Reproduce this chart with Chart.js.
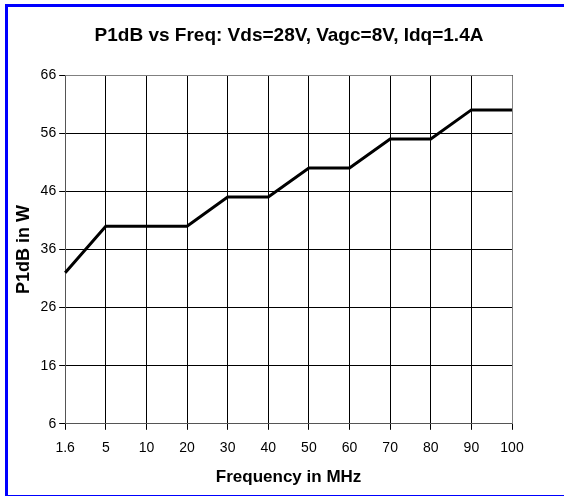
<!DOCTYPE html>
<html>
<head>
<meta charset="utf-8">
<script src="https://cdn.jsdelivr.net/npm/chart.js@4/dist/chart.umd.min.js"></script>
<style>
  html, body { margin: 0; padding: 0; background: #fff; overflow: hidden; width: 564px; height: 498px; }
  #frame {
    position: absolute; left: 5px; top: 4px; width: 556px; height: 488px;
    border-left: 3px solid #0000ff; border-top: 3px solid #0000ff; border-bottom: 1px solid #0000ff;
  }
  #wrap { position: absolute; left: 0; top: 0; width: 564px; height: 498px; }
</style>
</head>
<body>
<div id="frame"></div>
<div id="wrap"><canvas id="c" width="564" height="498"></canvas></div>
<script>
// ---- Data ----
const freqLabels = ['1.6', '5', '10', '20', '30', '40', '50', '60', '70', '80', '90', '100'];
const p1dbWatts = [32, 40, 40, 40, 45, 45, 50, 50, 55, 55, 60, 60];
const yMin = 6, yMax = 66, yStep = 10;
const chartTitle = 'P1dB vs Freq: Vds=28V, Vagc=8V, Idq=1.4A';

const font = 'Liberation Sans, Arial, sans-serif';

new Chart(document.getElementById('c'), {
  type: 'line',
  data: {
    labels: freqLabels,
    datasets: [{
      data: p1dbWatts,
      borderColor: '#000',
      borderWidth: 3,
      pointRadius: 0,
      tension: 0,
      fill: false
    }]
  },
  options: {
    responsive: false,
    animation: false,
    layout: { padding: { left: 13, right: 52, top: 75, bottom: 10 } },
    plugins: {
      legend: { display: false },
      tooltip: { enabled: false },
      title: { display: false }
    },
    scales: {
      x: {
        type: 'category',
        offset: false,
        grid: { color: '#000', lineWidth: 1, tickLength: 6, drawTicks: true },
        border: { color: '#555', width: 1 },
        ticks: { color: '#000', font: { family: font, size: 14 }, padding: 10, maxRotation: 0, autoSkip: false },
        title: {
          display: true, text: 'Frequency in MHz', color: '#000',
          font: { family: font, size: 17, weight: 'bold' }, padding: { top: 1, bottom: 0 }
        }
      },
      y: {
        min: yMin, max: yMax,
        grid: { color: '#000', lineWidth: 1, tickLength: 6 },
        border: { color: '#555', width: 1 },
        ticks: { stepSize: yStep, color: '#000', font: { family: font, size: 14 }, padding: 3 },
        title: {
          display: true, text: 'P1dB in W', color: '#000',
          font: { family: font, size: 18, weight: 'bold' }, padding: { top: 0, bottom: 3 }
        }
      }
    }
  },
  plugins: [{
    id: 'plotBorderAndTitle',
    afterDraw(chart) {
      const a = chart.chartArea, ctx = chart.ctx;
      ctx.save();
      ctx.strokeStyle = '#808080';
      ctx.lineWidth = 1;
      ctx.beginPath();
      ctx.moveTo(a.left, a.top + 0.5); ctx.lineTo(a.right + 0.5, a.top + 0.5); ctx.lineTo(a.right + 0.5, a.bottom);
      ctx.stroke();
      ctx.fillStyle = '#000';
      ctx.font = 'bold 19px ' + font;
      ctx.textAlign = 'center';
      ctx.textBaseline = 'alphabetic';
      ctx.fillText(chartTitle, 289, 41);
      ctx.restore();
    }
  }]
});
</script>
</body>
</html>
